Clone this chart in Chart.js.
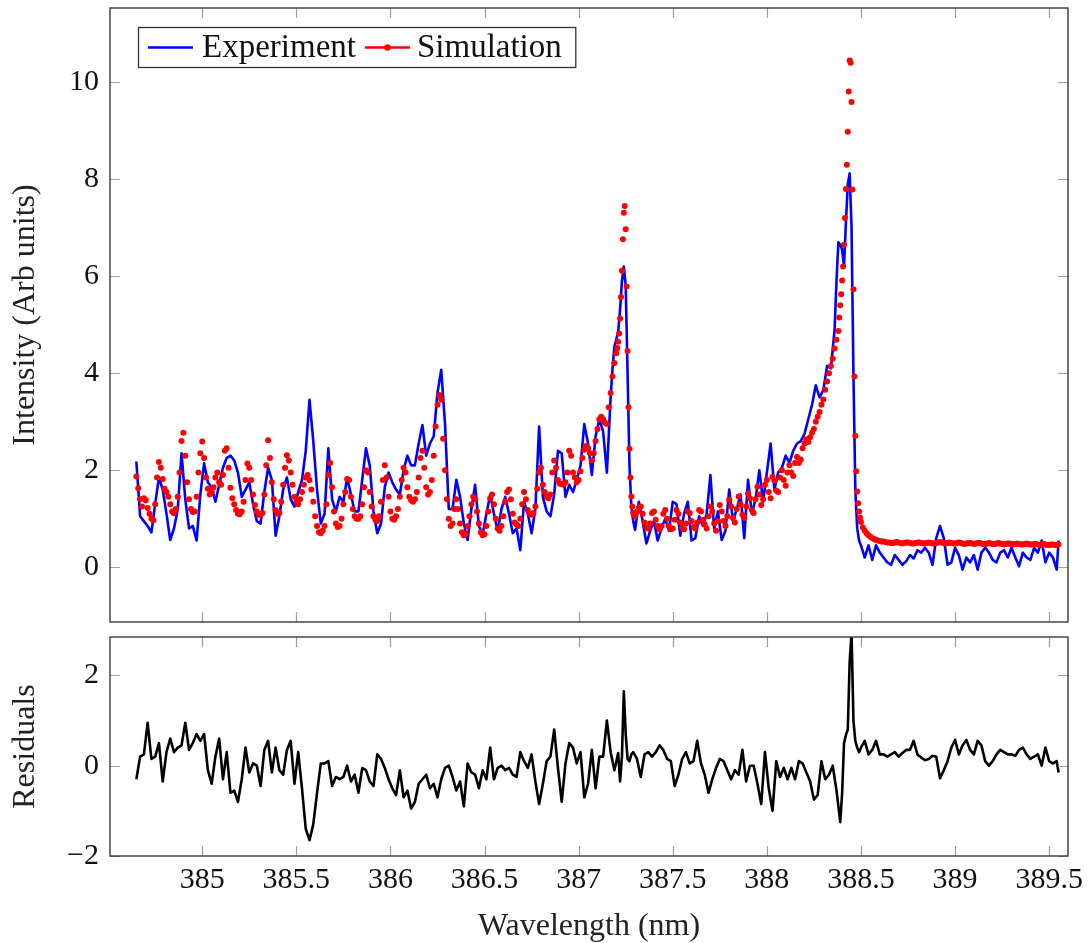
<!DOCTYPE html>
<html>
<head>
<meta charset="utf-8">
<title>Spectrum fit and residuals</title>
<script src="https://cdn.jsdelivr.net/npm/chart.js@4.4.1/dist/chart.umd.min.js"></script>
<style>
  html, body { margin: 0; padding: 0; background: #ffffff; }
  #wrap { position: relative; width: 1089px; height: 943px; overflow: hidden; }
  canvas { position: absolute; left: 0; }
  #spectrum { top: 0; }
  #residuals { top: 630px; }
</style>
</head>
<body>
<div id="wrap">
  <canvas id="spectrum" width="1089" height="630"></canvas>
  <canvas id="residuals" width="1089" height="313"></canvas>
</div>
<script>
// ---- Measured spectrum (nm, arb. units) ----
const expWavelength = [
  384.65,384.67,384.69,384.71,384.73,384.75,384.77,384.79,384.81,384.83,
  384.85,384.87,384.89,384.91,384.93,384.95,384.97,384.99,385.01,385.03,
  385.05,385.07,385.09,385.11,385.13,385.15,385.17,385.19,385.21,385.23,
  385.25,385.27,385.29,385.31,385.33,385.35,385.37,385.39,385.41,385.43,
  385.45,385.47,385.49,385.51,385.53,385.55,385.57,385.59,385.61,385.63,
  385.65,385.67,385.69,385.71,385.73,385.75,385.77,385.79,385.81,385.83,
  385.85,385.87,385.89,385.91,385.93,385.95,385.97,385.99,386.01,386.03,
  386.05,386.07,386.09,386.11,386.13,386.15,386.17,386.19,386.21,386.23,
  386.25,386.27,386.29,386.31,386.33,386.35,386.37,386.39,386.41,386.43,
  386.45,386.47,386.49,386.51,386.53,386.55,386.57,386.59,386.61,386.63,
  386.65,
  386.67,386.69,386.71,386.73,386.75,386.77,386.79,386.81,386.83,386.85,
  386.87,386.89,386.91,386.93,386.95,386.97,386.99,387.01,387.03,387.05,
  387.07,387.09,387.11,387.13,387.15,387.17,
  387.18,387.19,387.20,387.21,387.22,387.23,387.24,387.25,387.26,387.27,387.28,387.29,387.30,
  387.32,387.34,387.36,387.38,387.40,387.42,387.44,387.46,387.48,387.50,
  387.52,387.54,387.56,387.58,387.60,387.62,387.64,387.66,
  387.68,387.70,387.72,387.74,387.76,387.78,387.80,387.82,387.84,387.86,
  387.88,387.90,387.92,387.94,387.96,387.98,388.00,388.02,388.04,388.06,
  388.08,388.10,388.12,388.14,388.16,388.18,388.20,388.22,388.24,388.26,
  388.28,388.30,388.32,388.34,388.36,
  388.37,388.38,388.39,388.40,388.41,388.42,388.43,388.44,388.45,388.46,388.47,388.48,388.49,388.50,
  388.52,388.54,388.56,388.58,388.60,
  388.62,388.64,388.66,388.68,388.70,388.72,388.74,388.76,388.78,388.80,
  388.82,388.84,388.86,388.88,388.90,388.92,388.94,388.96,388.98,389.00,
  389.02,389.04,389.06,389.08,389.10,389.12,389.14,389.16,389.18,389.20,
  389.22,389.24,389.26,389.28,389.30,389.32,389.34,389.36,389.38,389.40,
  389.42,389.44,389.46,389.48,389.50,389.52,389.54,
  389.55
];
const expIntensity = [
  2.18,1.05,0.95,0.85,0.72,1.30,1.85,1.60,1.11,0.56,
  0.80,1.20,2.35,1.40,0.80,0.85,0.55,1.50,2.14,1.75,
  1.65,1.35,1.70,2.05,2.25,2.30,2.20,1.95,1.45,1.60,
  1.75,1.30,0.95,0.90,1.55,2.05,1.80,0.65,1.05,1.60,
  1.85,1.40,1.25,1.55,1.80,2.40,3.45,2.60,1.60,0.90,
  1.10,2.45,1.40,1.15,1.45,1.35,1.85,1.50,1.15,1.15,
  1.80,2.45,2.10,1.15,0.70,0.90,1.65,1.95,1.75,1.60,
  1.50,2.00,2.30,2.10,2.10,2.55,2.93,2.30,2.55,2.70,
  3.60,4.07,2.95,1.20,1.20,1.80,1.45,0.90,0.56,1.20,
  1.70,0.85,0.68,1.10,1.50,1.10,0.75,1.20,1.45,1.10,
  0.70,
  0.80,0.35,1.35,1.10,0.70,1.20,2.90,1.45,1.15,1.05,
  1.50,2.40,2.35,1.45,1.70,1.55,1.80,2.10,2.95,2.55,
  1.90,2.70,3.05,2.80,1.95,3.50,
  4.10,4.55,4.70,4.85,5.30,5.90,6.20,5.80,4.00,2.10,1.25,0.95,0.77,
  1.35,0.95,0.49,0.75,0.95,0.55,0.80,1.00,0.75,1.35,
  1.30,0.65,1.10,1.35,0.55,0.60,1.05,0.85,
  1.10,1.90,0.80,1.15,0.56,0.75,1.60,0.95,1.20,1.50,
  0.60,1.80,1.10,1.40,2.00,1.35,1.95,2.55,1.60,1.95,
  2.05,2.30,2.15,2.40,2.55,2.60,2.75,3.05,3.35,3.75,
  3.50,3.65,4.15,4.10,4.90,
  5.90,6.70,6.65,6.55,6.20,7.10,7.90,8.12,7.00,4.00,1.60,0.80,0.55,0.45,
  0.20,0.45,0.15,0.45,0.30,
  0.20,0.10,0.05,0.25,0.15,0.05,0.12,0.25,0.18,0.35,
  0.30,0.40,0.30,0.05,0.60,0.85,0.60,0.05,0.10,0.40,
  0.25,-0.05,0.20,0.10,0.25,-0.05,0.30,0.40,0.30,0.15,
  0.10,0.30,0.35,0.20,0.40,0.20,0.02,0.30,0.20,0.15,
  0.40,0.30,0.55,0.10,0.30,0.20,-0.05,
  0.55
];

// ---- Simulated spectrum (nm, arb. units) ----
const simWavelength = [
  384.65,384.66,384.67,384.68,384.69,384.70,384.71,384.72,384.73,384.74,384.75,384.76,384.77,384.78,384.79,384.80,
  384.81,384.82,384.83,384.84,384.85,384.86,384.87,384.88,384.89,384.90,
  384.91,384.92,384.93,384.94,384.95,384.96,384.97,384.98,384.99,385.00,
  385.01,385.02,385.03,385.04,385.05,385.06,385.07,385.08,385.09,385.10,
  385.11,385.12,385.13,385.14,385.15,385.16,385.17,385.18,385.19,385.20,
  385.21,385.22,385.23,385.24,385.25,385.26,385.27,385.28,385.29,385.30,
  385.31,385.32,385.33,385.34,385.35,385.36,385.37,385.38,385.39,385.40,
  385.41,385.42,385.43,385.44,385.45,385.46,385.47,385.48,385.49,385.50,
  385.51,385.52,385.53,385.54,385.55,385.56,385.57,385.58,385.59,385.60,
  385.61,385.62,385.63,385.64,385.65,385.66,385.67,385.68,385.69,385.70,
  385.71,385.72,385.73,385.74,385.75,385.76,385.77,385.78,385.79,385.80,
  385.81,385.82,385.83,385.84,385.85,385.86,385.87,385.88,385.89,385.90,
  385.91,385.92,385.93,385.94,385.95,385.96,385.97,385.98,385.99,386.00,
  386.01,386.02,386.03,386.04,386.05,386.06,386.07,386.08,386.09,386.10,
  386.11,386.12,386.13,386.14,386.15,386.16,386.17,386.18,386.19,386.20,
  386.21,386.22,386.23,386.24,386.25,386.26,386.27,386.28,386.29,386.30,
  386.31,386.32,386.33,386.34,386.35,386.36,386.37,386.38,386.39,386.40,
  386.41,386.42,386.43,386.44,386.45,386.46,386.47,386.48,386.49,386.50,
  386.51,386.52,386.53,386.54,386.55,386.56,386.57,386.58,386.59,386.60,
  386.61,386.62,386.63,386.64,386.65,386.66,386.67,386.68,386.69,386.70,
  386.71,386.72,386.73,386.74,386.75,386.76,386.77,386.78,386.79,386.80,
  386.81,386.82,386.83,386.84,386.85,386.86,386.87,386.88,386.89,386.90,
  386.91,386.92,386.93,386.94,386.95,386.96,386.97,386.98,386.99,387.00,
  387.01,387.02,387.03,387.04,387.05,387.06,387.07,387.08,387.09,387.10,
  387.11,387.12,387.13,387.14,387.15,387.16,387.17,387.18,387.19,387.20,
  387.205,387.210,387.215,387.220,387.225,387.230,387.235,387.240,387.245,387.250,
  387.255,387.260,387.265,387.270,387.275,387.280,387.285,387.290,387.295,387.300,
  387.31,387.32,387.33,387.34,387.35,387.36,387.37,387.38,387.39,387.40,
  387.41,387.42,387.43,387.44,387.45,387.46,387.47,387.48,387.49,387.50,
  387.51,387.52,387.53,387.54,387.55,387.56,387.57,387.58,387.59,387.60,
  387.61,387.62,387.63,387.64,387.65,387.66,387.67,387.68,387.69,387.70,
  387.71,387.72,387.73,387.74,387.75,387.76,387.77,387.78,387.79,387.80,
  387.81,387.82,387.83,387.84,387.85,387.86,387.87,387.88,387.89,387.90,
  387.91,387.92,387.93,387.94,387.95,387.96,387.97,387.98,387.99,388.00,
  388.01,388.02,388.03,388.04,388.05,388.06,388.07,388.08,388.09,388.10,
  388.11,388.12,388.13,388.14,388.15,388.16,388.17,388.18,388.19,388.20,
  388.21,388.22,388.23,388.24,388.25,388.26,388.27,388.28,388.29,388.30,
  388.31,388.32,388.33,388.34,388.35,388.36,388.37,388.38,
  388.385,388.390,388.395,388.400,388.405,388.410,388.415,388.420,388.425,388.430,388.435,388.440,
  388.445,388.450,388.455,388.460,388.465,388.470,388.475,388.480,388.485,388.490,388.495,388.500,
  388.51,388.52,388.53,388.54,388.55,388.56,388.57,388.58,388.59,388.60,
  388.61,388.62,388.63,388.64,388.65,388.66,388.67,388.68,388.69,388.70,
  388.71,388.72,388.73,388.74,388.75,388.76,388.77,388.78,388.79,388.80,
  388.81,388.82,388.83,388.84,388.85,388.86,388.87,388.88,388.89,388.90,
  388.91,388.92,388.93,388.94,388.95,388.96,388.97,388.98,388.99,389.00,
  389.01,389.02,389.03,389.04,389.05,389.06,389.07,389.08,389.09,389.10,
  389.11,389.12,389.13,389.14,389.15,389.16,389.17,389.18,389.19,389.20,
  389.21,389.22,389.23,389.24,389.25,389.26,389.27,389.28,389.29,389.30,
  389.31,389.32,389.33,389.34,389.35,389.36,389.37,389.38,389.39,389.40,
  389.41,389.42,389.43,389.44,389.45,389.46,389.47,389.48,389.49,389.50,
  389.51,389.52,389.53,389.54,389.55
];
const simIntensity = [
  1.87,1.63,1.40,1.25,1.42,1.38,1.22,1.10,1.00,0.97,1.30,1.85,2.17,2.05,1.82,1.62,
  1.55,1.45,1.30,1.15,1.11,1.20,1.45,1.95,2.60,2.77,
  2.30,1.75,1.40,1.20,1.14,1.15,1.45,1.95,2.35,2.59,
  2.25,1.85,1.62,1.50,1.55,1.65,1.85,1.95,1.75,1.70,
  1.90,2.40,2.45,2.05,1.64,1.42,1.30,1.18,1.10,1.09,
  1.15,1.35,1.80,2.14,2.05,1.80,1.50,1.28,1.15,1.08,
  1.08,1.12,1.50,2.10,2.62,2.25,1.75,1.40,1.18,1.10,
  1.12,1.35,1.70,2.05,2.31,2.20,1.95,1.70,1.45,1.35,
  1.30,1.40,1.55,1.70,1.85,1.90,1.80,1.60,1.35,1.05,
  0.85,0.72,0.70,0.75,0.85,1.30,1.90,2.15,1.65,1.15,
  0.90,0.83,0.85,1.00,1.30,1.55,1.82,1.80,1.45,1.20,
  1.05,1.00,1.00,1.05,1.30,1.65,2.00,1.95,1.55,1.25,
  1.05,0.98,0.95,1.05,1.35,1.80,2.10,1.85,1.45,1.15,
  1.00,0.98,1.05,1.20,1.45,1.80,2.05,1.95,1.65,1.45,
  1.38,1.35,1.40,1.55,1.85,2.25,2.40,2.05,1.65,1.50,
  1.55,1.80,2.30,2.90,3.35,3.55,3.45,2.65,2.00,1.40,
  1.00,0.85,0.90,1.20,1.40,1.20,0.90,0.72,0.66,0.70,
  0.85,1.05,1.30,1.45,1.40,1.15,0.90,0.72,0.66,0.68,
  0.85,1.15,1.42,1.50,1.30,1.00,0.80,0.75,0.85,1.05,
  1.35,1.55,1.60,1.40,1.10,0.92,0.88,0.85,1.00,1.30,
  1.55,1.40,1.18,1.10,1.08,1.12,1.25,1.62,1.95,2.05,
  1.70,1.55,1.45,1.42,1.50,1.95,2.20,2.05,1.80,1.72,
  1.72,1.70,1.75,1.95,2.40,2.30,1.95,1.85,1.75,1.80,
  1.98,2.25,2.42,2.50,2.45,2.35,2.20,2.35,2.60,2.85,
  3.05,3.10,3.05,2.98,2.95,3.30,3.59,3.93,4.21,4.41,
  4.52,4.65,4.82,5.13,5.57,6.11,6.76,7.31,7.45,6.97,
  5.79,4.46,3.30,2.44,1.85,1.46,1.25,1.12,1.08,1.05,
  1.15,1.22,1.25,1.10,0.92,0.82,0.80,0.90,1.12,1.15,
  0.98,0.85,0.78,0.85,1.10,1.18,1.00,0.85,0.78,0.80,
  0.98,1.18,1.10,0.92,0.82,0.78,0.90,1.15,1.12,0.95,
  0.83,0.80,0.92,1.18,1.15,0.98,0.88,0.80,1.05,1.25,
  1.15,0.90,0.75,0.95,1.28,1.15,0.95,0.85,1.05,1.39,
  1.25,1.02,0.92,1.20,1.46,1.30,1.08,1.02,1.25,1.52,
  1.42,1.18,1.12,1.40,1.66,1.50,1.28,1.40,1.70,1.80,
  1.55,1.42,1.86,1.78,1.58,1.55,1.85,2.00,1.80,1.68,
  1.95,2.10,1.95,1.88,2.15,2.27,2.15,2.22,2.45,2.55,
  2.64,2.58,2.68,2.77,2.85,3.00,3.10,3.20,3.35,3.46,
  3.66,3.83,4.00,4.15,4.30,4.51,4.69,4.87,
  5.15,5.40,5.63,5.91,6.20,6.65,7.20,7.80,8.30,8.98,9.81,10.45,
  10.40,9.59,7.79,5.73,3.93,2.71,1.98,1.56,1.32,1.15,1.02,0.93,
  0.82,0.75,0.70,0.66,0.63,0.60,0.58,0.56,0.55,0.54,
  0.53,0.53,0.52,0.51,0.51,0.50,0.50,0.51,0.52,0.51,
  0.50,0.49,0.50,0.51,0.51,0.50,0.49,0.49,0.50,0.51,
  0.51,0.50,0.49,0.49,0.50,0.51,0.50,0.49,0.49,0.50,
  0.51,0.52,0.51,0.50,0.49,0.50,0.51,0.50,0.49,0.49,
  0.50,0.51,0.50,0.49,0.48,0.49,0.50,0.50,0.49,0.48,
  0.49,0.50,0.50,0.49,0.48,0.48,0.49,0.50,0.49,0.48,
  0.48,0.49,0.50,0.49,0.48,0.47,0.48,0.49,0.49,0.48,
  0.47,0.48,0.49,0.48,0.47,0.47,0.48,0.49,0.48,0.47,
  0.47,0.48,0.48,0.47,0.46,0.47,0.48,0.47,0.46,0.46,
  0.47,0.47,0.46,0.46,0.47
];

// ---- Fit residuals (nm, arb. units) ----
const residualWavelength = [
  384.65,384.67,384.69,384.71,384.73,384.75,384.77,384.79,384.81,384.83,
  384.85,384.87,384.89,384.91,384.93,384.95,384.97,384.99,385.01,385.03,
  385.05,385.07,385.09,385.11,385.13,385.15,385.17,385.19,385.21,385.23,
  385.25,385.27,385.29,385.31,385.33,385.35,385.37,385.39,385.41,385.43,
  385.45,385.47,385.49,385.51,385.53,385.55,385.57,385.59,385.61,385.63,
  385.65,385.67,385.69,385.71,385.73,385.75,385.77,385.79,385.81,385.83,
  385.85,385.87,385.89,385.91,385.93,385.95,385.97,385.99,386.01,386.03,
  386.05,386.07,386.09,386.11,386.13,386.15,386.17,386.19,386.21,386.23,
  386.25,386.27,386.29,386.31,
  386.33,386.35,386.37,386.39,386.41,386.43,386.45,386.47,386.49,386.51,
  386.53,386.55,386.57,386.59,386.61,386.63,386.65,386.67,386.69,386.71,
  386.73,386.75,386.77,386.79,386.81,386.83,386.85,386.87,386.89,386.91,
  386.93,386.95,386.97,386.99,387.01,387.03,387.05,387.07,387.09,387.11,
  387.13,387.15,387.17,387.19,
  387.21,387.22,387.23,387.24,387.25,387.26,387.27,387.28,387.29,
  387.31,387.33,387.35,387.37,387.39,387.41,387.43,387.45,387.47,387.49,
  387.51,387.53,387.55,387.57,387.59,387.61,387.63,387.65,387.67,387.69,
  387.71,387.73,387.75,387.77,387.79,387.81,387.83,387.85,387.87,387.89,
  387.91,387.93,387.95,387.97,387.99,
  388.01,388.03,388.05,388.07,388.09,388.11,388.13,388.15,388.17,388.19,
  388.21,388.23,388.25,388.27,388.29,388.31,388.33,388.35,388.37,
  388.38,388.39,388.40,388.41,388.42,388.43,388.44,388.45,388.46,388.47,388.48,388.49,388.50,
  388.52,388.54,388.56,388.58,388.60,
  388.62,388.64,388.66,388.68,388.70,388.72,388.74,388.76,388.78,388.80,
  388.82,388.84,388.86,388.88,388.90,388.92,388.94,388.96,388.98,389.00,
  389.02,389.04,389.06,389.08,389.10,389.12,389.14,389.16,389.18,389.20,
  389.22,389.24,389.26,389.28,389.30,389.32,389.34,389.36,389.38,389.40,
  389.42,389.44,389.46,389.48,389.50,389.52,389.54,
  389.55
];
const residualValue = [
  -0.30,0.20,0.25,0.95,0.15,0.20,0.50,-0.35,0.30,0.60,
  0.30,0.40,0.45,0.95,0.35,0.50,0.70,0.55,0.70,-0.10,
  -0.40,0.20,0.60,-0.30,0.30,-0.60,-0.55,-0.80,-0.30,0.40,
  -0.15,0.05,0.00,-0.45,0.35,0.55,-0.15,0.40,-0.10,-0.20,
  0.35,0.55,-0.40,0.30,-0.50,-1.40,-1.65,-1.30,-0.60,0.05,
  0.05,0.10,-0.45,-0.25,-0.30,-0.25,0.00,-0.35,-0.20,-0.60,
  -0.05,-0.10,-0.35,-0.45,0.25,0.15,-0.05,-0.30,-0.50,-0.65,
  -0.10,-0.70,-0.55,-0.95,-0.80,-0.40,-0.30,-0.20,-0.50,-0.40,
  -0.70,-0.30,-0.05,0.00,
  -0.25,-0.55,-0.35,-0.90,0.05,-0.15,-0.20,-0.50,-0.10,-0.30,
  0.40,-0.30,-0.05,0.00,-0.10,-0.05,-0.20,-0.25,0.30,0.10,
  -0.05,0.25,-0.35,-0.85,-0.40,0.10,0.20,0.80,-0.05,-0.80,
  0.05,0.50,0.40,0.05,0.30,-0.70,-0.40,0.35,-0.50,0.20,
  0.20,1.00,0.30,-0.10,
  0.28,-0.35,0.20,1.65,0.70,0.15,0.10,0.25,0.30,
  0.15,-0.25,0.25,0.30,0.20,0.30,0.45,0.35,0.15,0.10,
  -0.45,-0.20,0.15,0.30,0.05,0.10,0.55,0.05,-0.20,-0.60,
  -0.30,-0.05,0.15,0.10,-0.10,-0.30,-0.10,-0.20,0.35,-0.35,
  0.00,0.00,-0.40,-0.85,0.30,
  -0.50,-1.00,0.10,-0.25,-0.05,-0.30,-0.05,-0.30,0.10,0.05,
  -0.15,-0.35,-0.75,-0.65,0.10,-0.30,-0.20,0.00,-0.55,
  -0.90,-1.25,-0.60,0.50,0.68,0.80,2.30,2.95,1.00,0.55,0.40,0.30,0.40,
  0.55,0.25,0.35,0.55,0.25,
  0.25,0.20,0.25,0.30,0.20,0.28,0.35,0.35,0.55,0.25,
  0.18,0.12,0.15,0.22,0.20,-0.28,-0.10,0.10,0.40,0.57,
  0.25,0.45,0.57,0.35,0.25,0.55,0.45,0.10,0.00,0.10,
  0.25,0.35,0.30,0.25,0.25,0.22,0.35,0.40,0.25,0.15,
  0.20,0.25,0.00,0.40,0.10,0.05,0.10,
  -0.15
];

// ---- Axis ticks ----
const wavelengthTicks = [385, 385.5, 386, 386.5, 387, 387.5, 388, 388.5, 389, 389.5];
const intensityTicks = [0, 2, 4, 6, 8, 10];
const residualTicks = [-2, 0, 2];

// ---- Styling ----
const FAMILY = "'Liberation Serif', 'Times New Roman', serif";
const X_MIN = 384.51, X_MAX = 389.60;
const TICK_LEN = 10;
Chart.defaults.font.family = FAMILY;
Chart.defaults.color = '#111111';

function pairs(xs, ys, name) {
  if (xs.length !== ys.length) throw new Error(name + ': ' + xs.length + ' x values vs ' + ys.length + ' y values');
  return xs.map((x, i) => ({ x: x, y: ys[i] }));
}
function signed(v) { return v < 0 ? '\u2212' + Math.abs(v) : String(v); }
function fixedTicks(list) { return function (scale) { scale.ticks = list.map(v => ({ value: v })); }; }
// Pin the axis box size and drop the label overhang padding so the plot frames sit exactly
function pinVertical(width) {
  return function (scale) { scale.width = width; scale.paddingTop = 0; scale.paddingBottom = 0; };
}
function pinHorizontal(height) {
  return function (scale) { scale.height = height; scale.paddingLeft = 0; scale.paddingRight = 0; };
}

function drawLegend(chart) {
  const ctx = chart.ctx;
  const sets = chart.data.datasets;
  const exp = sets[0], sim = sets[1];
  ctx.font = '33px ' + FAMILY;
  const wExp = ctx.measureText(exp.label).width;
  const wSim = ctx.measureText(sim.label).width;
  const left = 138.5, top = 27.5, height = 40, cy = 47.5;
  const lineLen = 45;
  const x1 = left + 9.5;
  const t1 = x1 + lineLen + 9;
  const x2 = t1 + wExp + 9;
  const t2 = x2 + lineLen + 7;
  const right = t2 + wSim + 14;
  ctx.fillStyle = '#ffffff';
  ctx.fillRect(left, top, right - left, height);
  ctx.lineWidth = 1.3;
  ctx.strokeStyle = '#333333';
  ctx.strokeRect(left, top, right - left, height);
  // experiment sample
  ctx.strokeStyle = exp.borderColor;
  ctx.lineWidth = exp.borderWidth;
  ctx.beginPath(); ctx.moveTo(x1, cy); ctx.lineTo(x1 + lineLen, cy); ctx.stroke();
  // simulation sample
  ctx.strokeStyle = sim.pointBackgroundColor;
  ctx.lineWidth = 2.4;
  ctx.beginPath(); ctx.moveTo(x2, cy); ctx.lineTo(x2 + lineLen, cy); ctx.stroke();
  ctx.fillStyle = sim.pointBackgroundColor;
  ctx.beginPath(); ctx.arc(x2 + lineLen / 2, cy, 3.2, 0, Math.PI * 2); ctx.fill();
  ctx.fillStyle = '#111111';
  ctx.textBaseline = 'middle';
  ctx.textAlign = 'left';
  ctx.fillText(exp.label, t1, cy + 1);
  ctx.fillText(sim.label, t2, cy + 1);
}

// Box frame with inward ticks on all four sides
function framePlugin(xTickList, yTickList, withLegend) {
  return {
    id: 'frame',
    afterDraw(chart) {
      const ctx = chart.ctx, a = chart.chartArea;
      const xs = chart.scales.x, ys = chart.scales.y;
      ctx.save();
      ctx.lineWidth = 1.2;
      ctx.strokeStyle = '#a0a0a0';
      ctx.beginPath();
      xTickList.forEach(v => {
        const px = Math.round(xs.getPixelForValue(v)) + 0.5;
        ctx.moveTo(px, a.top); ctx.lineTo(px, a.top + TICK_LEN);
        ctx.moveTo(px, a.bottom); ctx.lineTo(px, a.bottom - TICK_LEN);
      });
      yTickList.forEach(v => {
        const py = Math.round(ys.getPixelForValue(v)) + 0.5;
        ctx.moveTo(a.left, py); ctx.lineTo(a.left + TICK_LEN, py);
        ctx.moveTo(a.right, py); ctx.lineTo(a.right - TICK_LEN, py);
      });
      ctx.stroke();
      ctx.lineWidth = 1.4;
      ctx.strokeStyle = '#3a3a3a';
      ctx.strokeRect(a.left, a.top, a.right - a.left, a.bottom - a.top);
      if (withLegend) drawLegend(chart);
      ctx.restore();
    }
  };
}

const hiddenGrid = { display: false, drawTicks: false };

// ---- Upper panel: measured vs simulated spectrum ----
new Chart(document.getElementById('spectrum'), {
  type: 'scatter',
  data: {
    datasets: [
      {
        label: 'Experiment',
        data: pairs(expWavelength, expIntensity, 'experiment'),
        showLine: true,
        borderColor: '#0000ff',
        backgroundColor: '#0000ff',
        borderWidth: 2.6,
        borderJoinStyle: 'round',
        pointRadius: 0,
        order: 1
      },
      {
        label: 'Simulation',
        data: pairs(simWavelength, simIntensity, 'simulation'),
        showLine: false,
        pointRadius: 3.0,
        pointBorderWidth: 0,
        pointBackgroundColor: '#ff0000',
        borderColor: '#ff0000',
        order: 0
      }
    ]
  },
  options: {
    responsive: false,
    animation: false,
    devicePixelRatio: 1,
    layout: { padding: { left: 0, top: 8, right: 21, bottom: 8 } },
    plugins: { legend: { display: false }, tooltip: { enabled: false } },
    scales: {
      x: {
        type: 'linear', min: X_MIN, max: X_MAX, display: false,
        grid: hiddenGrid
      },
      y: {
        type: 'linear', min: -1.13, max: 11.53, bounds: 'data',
        afterBuildTicks: fixedTicks(intensityTicks),
        afterFit: pinVertical(110),
        grid: hiddenGrid,
        border: { display: false },
        ticks: { font: { size: 30, lineHeight: 1 }, color: '#111111', padding: 11, callback: signed },
        title: {
          display: true, text: 'Intensity (Arb units)', color: '#222222',
          font: { size: 32, lineHeight: 1 }, padding: { top: 10, bottom: 0 }
        }
      }
    }
  },
  plugins: [framePlugin(wavelengthTicks, intensityTicks, true)]
});

// ---- Lower panel: residuals ----
new Chart(document.getElementById('residuals'), {
  type: 'scatter',
  data: {
    datasets: [
      {
        label: 'Residuals',
        data: pairs(residualWavelength, residualValue, 'residuals'),
        showLine: true,
        borderColor: '#000000',
        borderWidth: 2.6,
        borderJoinStyle: 'round',
        pointRadius: 0
      }
    ]
  },
  options: {
    responsive: false,
    animation: false,
    devicePixelRatio: 1,
    layout: { padding: { left: 0, top: 7, right: 21, bottom: 0 } },
    plugins: { legend: { display: false }, tooltip: { enabled: false } },
    scales: {
      x: {
        type: 'linear', min: X_MIN, max: X_MAX, bounds: 'data',
        afterBuildTicks: fixedTicks(wavelengthTicks),
        afterFit: pinHorizontal(87),
        grid: hiddenGrid,
        border: { display: false },
        ticks: { font: { size: 30, lineHeight: 1 }, color: '#111111', padding: 9, maxRotation: 0, autoSkip: false, callback: v => String(v) },
        title: {
          display: true, text: 'Wavelength (nm)', color: '#222222',
          font: { size: 32, lineHeight: 1 }, padding: { top: 0, bottom: 0 }
        }
      },
      y: {
        type: 'linear', min: -2, max: 2.85, bounds: 'data',
        afterBuildTicks: fixedTicks(residualTicks),
        afterFit: pinVertical(110),
        grid: hiddenGrid,
        border: { display: false },
        ticks: { font: { size: 30, lineHeight: 1 }, color: '#111111', padding: 11, callback: signed },
        title: {
          display: true, text: 'Residuals', color: '#222222',
          font: { size: 32, lineHeight: 1 }, padding: { top: 10, bottom: 0 }
        }
      }
    }
  },
  plugins: [framePlugin(wavelengthTicks, residualTicks, false)]
});
</script>
</body>
</html>
